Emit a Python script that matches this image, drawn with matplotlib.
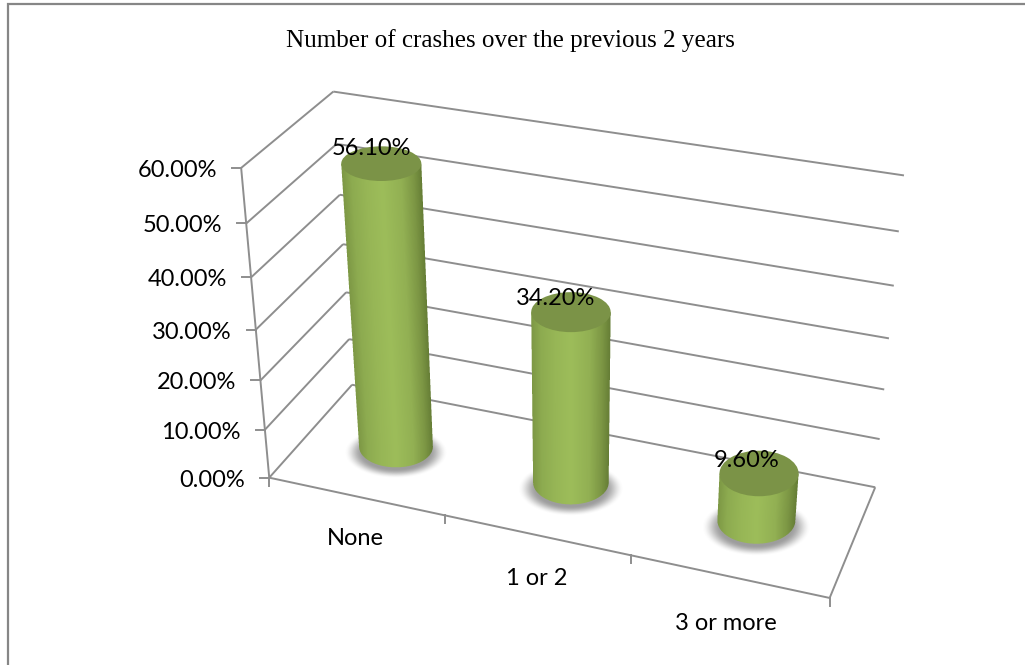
import numpy as np
import matplotlib
matplotlib.use("Agg")
import matplotlib.pyplot as plt
from matplotlib.colors import LinearSegmentedColormap
from matplotlib.patches import Ellipse

# Chart content
title = "Number of crashes over the previous 2 years"
categories = ["None", "1 or 2", "3 or more"]
shares = [56.10, 34.20, 9.60]
axis_ticks = [0, 10, 20, 30, 40, 50, 60]

W, H = 1025, 665
GRID = "#8e8e8e"
LABEL_FONT = "Lato"
LABEL_SIZE = 17

# Camera calibration: known box points (category, depth, value) and where they land on the canvas.
box_world = np.array([
    (0, 0, 0), (1, 0, 0), (2, 0, 0), (3, 0, 0), (3, 1, 0), (0, 1, 0),
    (0, 0, 10), (0, 0, 20), (0, 0, 30), (0, 0, 40), (0, 0, 50), (0, 0, 60),
    (0, 1, 60),
    (3, 1, 10), (3, 1, 20), (3, 1, 30), (3, 1, 40), (3, 1, 50), (3, 1, 60),
], float)
box_canvas = np.array([
    (270, 477), (444, 517), (632, 557), (829, 597), (875, 487), (352, 385),
    (265, 429), (260, 380), (256, 329), (251, 278), (246.5, 223), (241, 168),
    (333, 92),
    (880, 439), (884, 389), (889, 338), (894, 286), (899, 231), (904, 176),
], float)


def fit_camera(world, canvas):
    rows = []
    for (x, y, z), (u, v) in zip(world, canvas):
        rows.append([x, y, z, 1, 0, 0, 0, 0, -u * x, -u * y, -u * z, -u])
        rows.append([0, 0, 0, 0, x, y, z, 1, -v * x, -v * y, -v * z, -v])
    return np.linalg.svd(np.array(rows))[2][-1].reshape(3, 4)


CAMERA = fit_camera(box_world, box_canvas)


def project(x, y, z):
    x, y, z = np.broadcast_arrays(np.asarray(x, float), np.asarray(y, float), np.asarray(z, float))
    p = CAMERA @ np.stack([x.ravel(), y.ravel(), z.ravel(), np.ones(x.size)])
    return (p[0] / p[2]).reshape(x.shape), (p[1] / p[2]).reshape(x.shape)


def segment(ax, a, b, lw=1.4, z=1):
    ua, va = project(*a)
    ub, vb = project(*b)
    ax.plot([ua, ub], [va, vb], color=GRID, lw=lw, solid_capstyle="butt", zorder=z)


def disc_outline(cat, value, rx=0.196, ry=0.205):
    """Centre and half-extents of a cylinder cross-section on the canvas."""
    t = np.linspace(0, 2 * np.pi, 180)
    u, v = project(cat + 0.5 + rx * np.cos(t), 0.5 + ry * np.sin(t), value)
    cu, cv = project(cat + 0.5, 0.5, value)
    return float(cu), float(cv), (u.max() - u.min()) / 2, (v.max() - v.min()) / 2


body_cmap = LinearSegmentedColormap.from_list("body", [
    (0.00, "#7d9845"), (0.12, "#8dab50"), (0.30, "#97b656"), (0.50, "#9dbd5a"),
    (0.74, "#92b053"), (0.90, "#7c9644"), (1.00, "#667e36"),
])


def draw_shadow(ax, cu, cv, rx, ry):
    su, sv = 1.4 * rx, 1.25 * ry
    cv_s = cv + 0.28 * ry
    xs = np.arange(np.floor(cu - su) - 1, np.ceil(cu + su) + 2)
    ys = np.arange(np.floor(cv_s - sv) - 1, np.ceil(cv_s + sv) + 2)
    gx, gy = np.meshgrid(xs[:-1] + 0.5, ys[:-1] + 0.5)
    r = np.hypot((gx - cu) / su, (gy - cv_s) / sv)
    fade = np.clip((1 - r) / 0.36, 0, 1)
    fade = fade * fade * (3 - 2 * fade)
    rgba = np.zeros(gx.shape + (4,))
    rgba[..., :3] = 0.47
    rgba[..., 3] = 0.72 * fade
    ax.imshow(rgba, extent=(xs[0], xs[-1], ys[-1], ys[0]), aspect="auto",
              interpolation="nearest", zorder=3)


def wall_shade(x, y, bu, bv, brx, tu, tv, trx):
    """Signed horizontal position across the wall: -1 left silhouette, +1 right."""
    h = np.clip((y - bv) / (tv - bv), 0, 1)
    return (x - (bu + (tu - bu) * h)) / (brx + (trx - brx) * h)


def draw_wall(ax, bu, bv, brx, bry, tu, tv, trx):
    # Rendered per pixel so the slanted silhouette stays smooth; coverage from 4x sampling
    x0, x1 = int(min(bu - brx, tu - trx)) - 2, int(max(bu + brx, tu + trx)) + 3
    y0, y1 = int(tv) - 1, int(bv + bry) + 3
    sub = 4
    sx = x0 + (np.arange((x1 - x0) * sub) + 0.5) / sub
    sy = y0 + (np.arange((y1 - y0) * sub) + 0.5) / sub
    gx, gy = np.meshgrid(sx, sy)
    s = wall_shade(gx, gy, bu, bv, brx, tu, tv, trx)
    inside = (np.abs(s) <= 1) & (gy >= tv) & (
        (gy <= bv) | (((gx - bu) / brx) ** 2 + ((gy - bv) / bry) ** 2 <= 1))
    cover = inside.reshape(y1 - y0, sub, x1 - x0, sub).mean(axis=(1, 3))
    px, py = np.meshgrid(np.arange(x0, x1) + 0.5, np.arange(y0, y1) + 0.5)
    ps = wall_shade(px, py, bu, bv, brx, tu, tv, trx)
    rgba = body_cmap((np.clip(ps, -1, 1) + 1) / 2)
    rgba[..., 3] = cover
    ax.imshow(rgba, extent=(x0, x1, y1, y0), aspect="auto", interpolation="nearest", zorder=4)


def draw_cylinder(ax, cat, value):
    bu, bv, brx, bry = disc_outline(cat, 0)
    tu, tv, trx, try_ = disc_outline(cat, value)
    draw_shadow(ax, bu, bv, brx, bry)
    draw_wall(ax, bu, bv, brx, bry, tu, tv, trx)
    ax.add_patch(Ellipse((tu, tv), 2 * trx, 2 * try_, facecolor="#7b9347",
                         edgecolor="none", zorder=5))
    return tu, tv


fig = plt.figure(figsize=(W / 100, H / 100), dpi=100, facecolor="white")
ax = fig.add_axes([0, 0, 1, 1])
ax.set_xlim(0, W)
ax.set_ylim(H, 0)
ax.axis("off")

# Outer chart frame: only the left and top edges are visible
ax.plot([8, 8, W], [H, 3.5, 3.5], color="#868686", lw=1.6, solid_joinstyle="miter", zorder=1)

ax.text(510, 40.5, title, family="Liberation Serif", fontsize=18.1, ha="center", va="center",
        color="black", zorder=8)

# Walls, floor and value gridlines
for tick in axis_ticks:
    segment(ax, (0, 0, tick), (0, 1, tick))
    segment(ax, (0, 1, tick), (3, 1, tick))
    u, v = project(0, 0, tick)
    ax.plot([u - 9, u], [v, v], color=GRID, lw=1.4, zorder=1)
    ax.text(u - 24, v + 2.5, f"{tick:.2f}%", family=LABEL_FONT, fontsize=LABEL_SIZE,
            ha="right", va="center", color="black", zorder=8)
segment(ax, (0, 0, 0), (0, 0, axis_ticks[-1]))
segment(ax, (0, 0, 0), (3, 0, 0))
segment(ax, (3, 0, 0), (3, 1, 0))

# Category ticks hanging under the front edge
for pos in range(len(categories) + 1):
    u, v = project(pos, 0, 0)
    ax.plot([u, u], [v, v + 8], color=GRID, lw=1.4, zorder=1)

value_label_offsets = [(-10, -15), (-15, -14), (-12, -13)]
category_label_offsets = [(0, 42), (0, 43), (-3, 47)]
for i, (name, value) in enumerate(zip(categories, shares)):
    tu, tv = draw_cylinder(ax, i, value)
    dx, dy = value_label_offsets[i]
    ax.text(tu + dx, tv + dy, f"{value:.2f}%", family=LABEL_FONT, fontsize=LABEL_SIZE,
            ha="center", va="center", color="black", zorder=8)
    u, v = project(i + 0.5, 0, 0)
    dx, dy = category_label_offsets[i]
    ax.text(u + dx, v + dy, name, family=LABEL_FONT, fontsize=LABEL_SIZE,
            ha="center", va="center", color="black", zorder=8)

ax.set_xlim(0, W)
ax.set_ylim(H, 0)
fig.savefig("out.png", dpi=100)
